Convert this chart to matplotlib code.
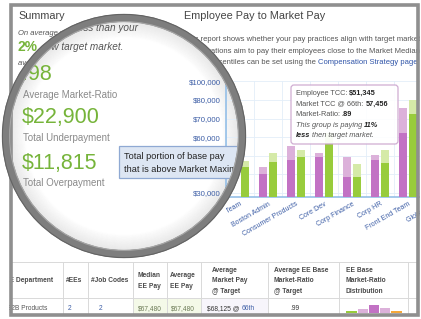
import numpy as np
import matplotlib.pyplot as plt
from matplotlib.patches import Circle, Rectangle, FancyBboxPatch
from matplotlib.transforms import Bbox, TransformedBbox

plt.rcParams['font.family'] = ['Liberation Sans', 'DejaVu Sans']

W, H = 421, 319

# --- data ---
categories = ["Backend Team", "Boston Admin", "Consumer Products", "Core Dev",
              "Corp Finance", "Corp HR", "Front End Team", "Global Ops"]
ee_base = [np.nan, 40200, 47700, 49350, 38600, 47700, 62300, np.nan]
ee_total = [np.nan, 44000, 55300, 51500, 49350, 50400, 75700, np.nan]
mkt_base = [44000, 46700, 49350, 57000, 38600, 46100, 72500, np.nan]
mkt_total = [47000, 51500, 53100, 62000, 45600, 53100, 80000, np.nan]

y_ticks = [30000, 40000, 50000, 60000, 70000, 80000, 90000]
y_tick_labels = ["$30,000", "$40,000", "$50,000", "$60,000", "$70,000", "$80,000", "$100,000"]

summary_values = [".98", "$22,900", "$11,815"]
summary_labels = ["Average Market-Ratio", "Total Underpayment", "Total Overpayment"]

tooltip_lines = [
    [("Employee TCC: ", "normal", "normal"), ("$51,345", "bold", "normal")],
    [("Market TCC @ 66th: ", "normal", "normal"), ("57,456", "bold", "normal")],
    [("Market-Ratio: ", "normal", "normal"), (".89", "bold", "normal")],
    [("This group is paying ", "normal", "italic"), ("11%", "bold", "italic")],
    [("less", "bold", "italic"), (" then target market.", "normal", "italic")],
]

table_headers = ["EE Department", "#EEs", "#Job Codes", "Median\nEE Pay", "Average\nEE Pay",
                 "Average\nMarket Pay\n@ Target", "Average EE Base\nMarket-Ratio\n@ Target",
                 "EE Base\nMarket-Ratio\nDistribution"]
table_row = ["B2B Products", "2", "2", "$67,480", "$67,480", "$68,125 @ ", ".99"]
dist_values = [2.5, 4, 8, 5, 2.5]

# colours
GREEN_TXT = '#76b43a'
PURPLE = '#c272c4'
PURPLE_LT = '#dcb1da'
GREEN = '#98cc3c'
GREEN_LT = '#d5eaa8'
BLUE_TXT = '#3d5ea6'
GRAY_TXT = '#555555'

fig = plt.figure(figsize=(W / 100, H / 100), dpi=100)
fig.patch.set_facecolor('white')


def pixel_axes(z):
    a = fig.add_axes([0, 0, 1, 1], zorder=z)
    a.set_xlim(0, W)
    a.set_ylim(H, 0)
    a.axis('off')
    return a


def clip_rect(x0, y0, x1, y1):
    # rectangle in picture pixels (top-left origin) -> display clip box
    return TransformedBbox(Bbox.from_extents(x0 / 100, (H - y1) / 100, x1 / 100, (H - y0) / 100),
                           fig.dpi_scale_trans)


bg = pixel_axes(0)
top = pixel_axes(3)


def chain(ax, x, y, parts, size, color, z=5, clip=None):
    # draw text pieces one after the other on the same baseline
    t = None
    out = []
    for part in parts:
        s, wt, st = part[:3]
        col = part[3] if len(part) > 3 and part[3] else color
        if t is None:
            t = ax.text(x, y, s, fontsize=size, fontweight=wt, fontstyle=st, color=col,
                        ha='left', va='baseline', zorder=z)
        else:
            t = ax.annotate(s, xy=(1, 0), xycoords=t, fontsize=size, fontweight=wt,
                            fontstyle=st, color=col, ha='left', va='bottom', zorder=z)
        out.append(t)
    if clip is not None:
        for t in out:
            t.set_clip_box(clip)
            t.set_clip_on(True)
    return out


# --- background page ---
bg.text(18, 16, "Summary", fontsize=7.8, color='#444444', va='center')
bg.text(184, 16, "Employee Pay to Market Pay", fontsize=7.8, color='#444444', va='center')

chain(bg, 18, 35, [("On average you pay less than your", "normal", "italic")], 5.5, GRAY_TXT)
bg.text(18, 51, "2%", fontsize=10, fontweight='bold', color=GREEN_TXT, va='baseline')
chain(bg, 18, 65, [("average market-ratio", "normal", "italic")], 5.5, GRAY_TXT)

chain(bg, 184, 41, [("This report shows whether your pay practices align with target market pay.",
                     "normal", "normal")], 5.5, GRAY_TXT)
chain(bg, 184, 53, [("Organizations aim to pay their employees close to the Market Median.",
                     "normal", "normal")], 5.5, GRAY_TXT)
chain(bg, 184, 64, [("Target percentiles can be set using the ", "normal", "normal"),
                    ("Compensation Strategy page.", "normal", "normal", '#2f54a8')], 5.5, GRAY_TXT)

# table
line_c = '#d9d9d9'
bg.plot([12, 416], [262, 262], color=line_c, lw=0.7)
bg.plot([12, 416], [298, 298], color=line_c, lw=0.7)
for xv in [63, 88, 133, 167, 201, 268, 339, 408]:
    bg.plot([xv, xv], [262, 313], color=line_c, lw=0.7)
bg.add_patch(Rectangle((133, 298.5), 68, 15, fc='#f4f9e8', ec='none', zorder=0.5))
bg.add_patch(Rectangle((201, 298.5), 67, 15, fc='#f7f5fb', ec='none', zorder=0.5))
head_x = [5, 66, 91, 138, 170, 212, 274, 346]
for hx, txt in zip(head_x, table_headers):
    bg.text(hx, 281, txt, fontsize=4.8, fontweight='bold', color='#4a4a4a',
            va='center', ha='left', linespacing=1.75)
row_x = [7, 68, 99, 138, 171, 207, 290]
row_col = [GRAY_TXT, BLUE_TXT, BLUE_TXT, '#6b7a55', '#6b7a55', '#333333', '#333333']
for i, (rx, txt) in enumerate(zip(row_x, table_row)):
    if i == 5:
        chain(bg, rx, 310, [(txt, "normal", "normal"), ("66th", "normal", "normal", BLUE_TXT)],
              4.8, '#333333')
    else:
        bg.text(rx, 310, txt, fontsize=4.8, color=row_col[i], va='baseline', ha='left')

spark = fig.add_axes([346 / W, (H - 313) / H, 56 / W, 10 / H], zorder=1)
spark.bar(range(len(dist_values)), dist_values, width=0.92,
          color=[GREEN, PURPLE_LT, PURPLE, PURPLE_LT, '#f5a83a'])
spark.set_ylim(0, 10)
spark.set_xlim(-0.5, len(dist_values) - 0.5)
spark.axis('off')

# lens interior (covers the page under it)
LX, LY = 124, 136
bg.add_patch(Circle((LX, LY), 118, fc='white', ec='none', zorder=10))
for k in range(18):
    bg.add_patch(Circle((LX, LY), 116 - k, fill=False, ec='#b0b0b0', lw=1.0,
                        alpha=0.24 * (1 - k / 18), zorder=11))

# --- bar chart ---
ax = fig.add_axes([226 / W, (H - 197) / H, 224 / W, 116 / H], zorder=2)
ax.set_facecolor('none')
x = np.arange(len(categories))
w = 8 / 29.5
off = 5 / 29.5
eb, et = np.array(ee_base), np.array(ee_total)
mb, mt = np.array(mkt_base), np.array(mkt_total)
ax.bar(x - off, eb, w, color=PURPLE, zorder=3)
ax.bar(x - off, et - eb, w, bottom=eb, color=PURPLE_LT, zorder=3)
ax.bar(x + off, mb, w, color=GREEN, zorder=3)
ax.bar(x + off, mt - mb, w, bottom=mb, color=GREEN_LT, zorder=3)
ax.set_xlim(-5.5 / 29.5, (450 - 231.5) / 29.5)
ax.set_ylim(27850, 90212)
ax.set_yticks(y_ticks, y_tick_labels)
ax.set_xticks(x, categories, rotation=30, ha='right', rotation_mode='anchor')
ax.set_xticks(np.arange(-0.5, len(categories), 1), minor=True)
ax.tick_params(axis='y', length=0, pad=3.6, labelsize=5.6, labelcolor=BLUE_TXT)
ax.tick_params(axis='x', which='both', length=0, pad=2.5, labelsize=5, labelcolor=BLUE_TXT)
ax.grid(True, which='major', axis='y', color='#e3eef9', lw=0.6)
ax.grid(True, which='minor', axis='x', color='#e3eef9', lw=0.6)
ax.set_axisbelow(True)
for s in ['top', 'right']:
    ax.spines[s].set_visible(False)
for s in ['left', 'bottom']:
    ax.spines[s].set_color('#8dbbe6')
    ax.spines[s].set_linewidth(1.1)
label_box = clip_rect(226, 0, 460, H)
for lbl in ax.get_xticklabels():
    lbl.set_clip_box(label_box)
    lbl.set_clip_on(True)

# --- overlay: tooltips, magnified content, ring, frame ---
tip = FancyBboxPatch((291, 85), 107, 59, boxstyle='round,pad=0,rounding_size=3',
                     fc='white', ec='#c9a2cc', lw=0.9, alpha=0.88, zorder=2)
top.add_patch(tip)
for i, parts in enumerate(tooltip_lines):
    chain(top, 296, 95 + i * 10.6, [(p[0], p[1], p[2], '#222222' if p[1] == 'bold' else GRAY_TXT)
                                    for p in parts], 5.3, GRAY_TXT, z=3)

lens_clip = Circle((LX, LY), 114, transform=top.transData)

blue_tip = Rectangle((119, 146), 125, 32, fc='#dde6f3', ec='#8fa9d3', lw=0.9, zorder=4)
top.add_patch(blue_tip)
blue_tip.set_clip_path(lens_clip)
for j, s in enumerate(["Total portion of base pay", "that is above Market Maximum"]):
    chain(top, 124, 159 + j * 12.5, [(s, "normal", "normal")], 6.6, '#222222', z=5,
          clip=clip_rect(100, 140, 236, 185))

# magnified summary column
t = top.text(138, 31, "On average you pay less than your", fontsize=7.2, fontstyle='italic',
             color=GRAY_TXT, ha='right', va='baseline', zorder=5)
t.set_clip_box(clip_rect(74, 15, 240, 40))
t.set_clip_on(True)
t = top.text(123, 50, "2% below target market.", fontsize=7.2, fontstyle='italic',
             color=GRAY_TXT, ha='right', va='baseline', zorder=5)
t.set_clip_box(clip_rect(52, 38, 240, 56))
t.set_clip_on(True)
for k, (val, lab) in enumerate(zip(summary_values, summary_labels)):
    yv = [75, 118, 163][k]
    top.text(22, yv, val, fontsize=15.5, color=GREEN_TXT, va='center', ha='left', zorder=5)
    top.text(23, yv + 20, lab, fontsize=7, color='#8a8a8a', va='center', ha='left', zorder=5)

# frame
top.add_patch(Rectangle((0, 0), 9, H, fc='white', ec='none', zorder=6))
top.add_patch(Rectangle((420, 0), 40, H, fc='white', ec='none', zorder=6))
top.add_patch(Rectangle((0, 317), W, 5, fc='white', ec='none', zorder=6))
top.add_patch(Rectangle((10.5, 5), 407.5, 310, fill=False, ec='#8f8f8f', lw=2.6, zorder=7))

# ring
top.add_patch(Circle((LX, LY), 118, fill=False, ec='#7e7e7e', lw=5.8, zorder=8))
top.add_patch(Circle((LX, LY), 121.6, fill=False, ec='#636363', lw=0.8, zorder=8))
top.add_patch(Circle((LX, LY), 114.4, fill=False, ec='#a6a6a6', lw=0.8, zorder=8))

fig.savefig('out.png', dpi=100, facecolor='white')
